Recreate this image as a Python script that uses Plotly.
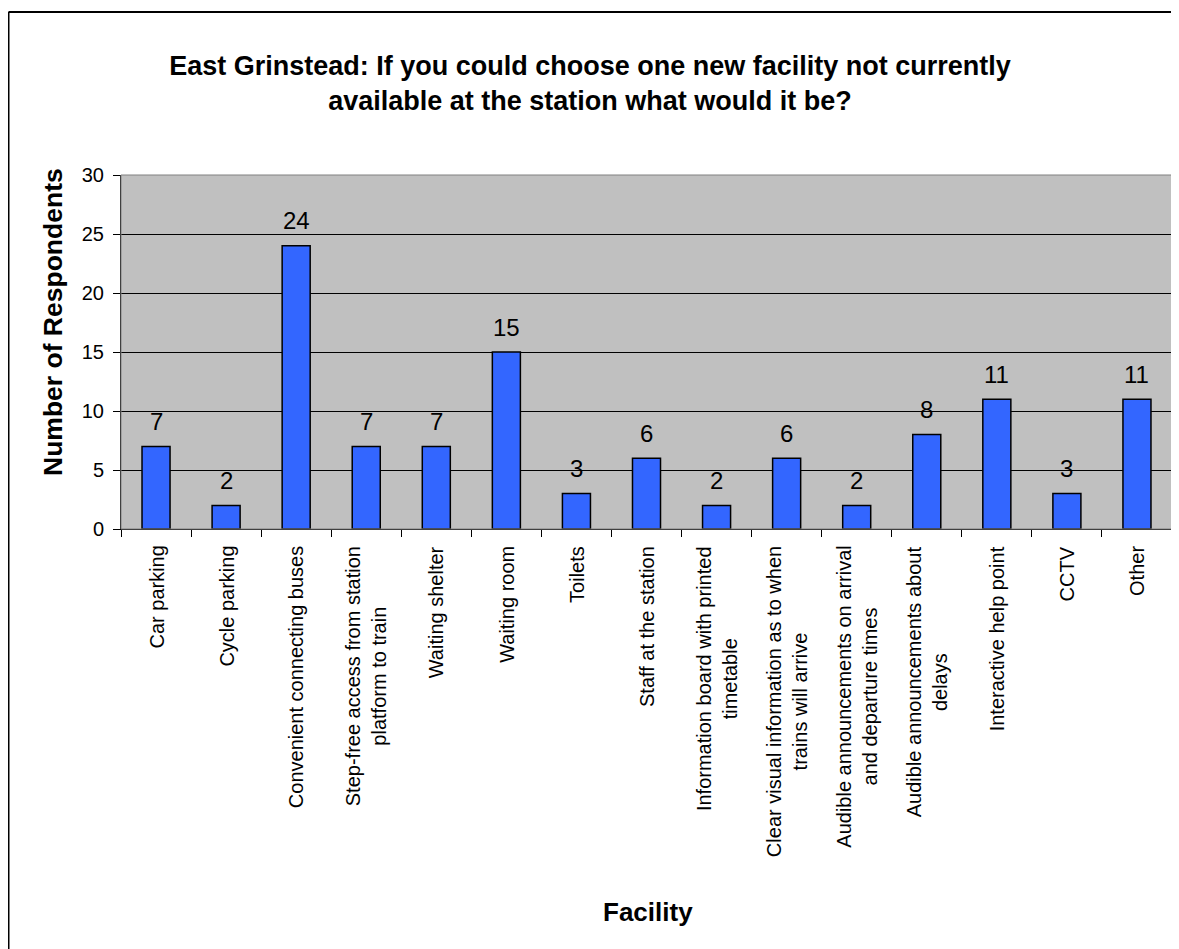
import plotly.graph_objects as go

categories = [
    "Car parking",
    "Cycle parking",
    "Convenient connecting buses",
    "Step-free access from station<br>platform to train",
    "Waiting shelter",
    "Waiting room",
    "Toilets",
    "Staff at the station",
    "Information board with printed<br>timetable",
    "Clear visual information as to when<br>trains will arrive",
    "Audible announcements on arrival<br>and departure times",
    "Audible announcements about<br>delays",
    "Interactive help point",
    "CCTV",
    "Other",
]
values = [7, 2, 24, 7, 7, 15, 3, 6, 2, 6, 2, 8, 11, 3, 11]
y_ticks = [0, 5, 10, 15, 20, 25, 30]

title_text = ("East Grinstead: If you could choose one new facility not currently<br>"
              "available at the station what would it be?")

# page has an 8px body margin; figure sized to fit the window
W, H = 1171, 941
ML, MR, MT, MB = 113, 7, 167, 420
PW = W - ML - MR
PH = H - MT - MB
BOTTOM = MT + PH  # figure px of plot bottom

FONT = "Liberation Sans, Arial, sans-serif"

fig = go.Figure()
fig.add_trace(go.Bar(
    x=categories, y=values,
    marker=dict(color="#3366FF", line=dict(color="black", width=1.5)),
    hoverinfo="x+y",
))

annotations = []
# data labels
for c, v in zip(categories, values):
    annotations.append(dict(
        x=c, y=v, xref="x", yref="y", text=str(v), showarrow=False,
        yanchor="middle", yshift=25,
        font=dict(family=FONT, size=24, color="black"),
    ))
# category labels
for c in categories:
    annotations.append(dict(
        x=c, y=0, xref="x", yref="paper", text=c, showarrow=False,
        textangle=-90, yanchor="top", xanchor="center", align="center", yshift=-15,
        font=dict(family=FONT, size=20, color="black"),
    ))
# y axis title
annotations.append(dict(
    x=(45 - ML) / PW, y=(BOTTOM - 314) / PH, xref="paper", yref="paper",
    text="<b>Number of Respondents</b>", showarrow=False, textangle=-90,
    xanchor="center", yanchor="middle",
    font=dict(family=FONT, size=26.5, color="black"),
))
# x axis title
annotations.append(dict(
    x=(640 - ML) / PW, y=-(904 - BOTTOM) / PH, xref="paper", yref="paper",
    text="<b>Facility</b>", showarrow=False,
    xanchor="center", yanchor="middle",
    font=dict(family=FONT, size=26, color="black"),
))

bx = (0.5 - ML) / PW
by = (BOTTOM - 4) / PH
shapes = [
    dict(type="rect", xref="paper", yref="paper", x0=0, y0=0, x1=1, y1=1,
         line=dict(color="#808080", width=1), layer="above"),
    dict(type="line", xref="paper", yref="paper", x0=bx, y0=by, x1=1.2, y1=by,
         line=dict(color="black", width=2)),
    dict(type="line", xref="paper", yref="paper", x0=bx, y0=-1.5, x1=bx, y1=by,
         line=dict(color="black", width=2)),
]

fig.update_layout(
    width=W, height=H,
    margin=dict(l=ML, r=MR, t=MT, b=MB, pad=0),
    paper_bgcolor="white",
    plot_bgcolor="#C0C0C0",
    bargap=0.6,
    showlegend=False,
    font=dict(family=FONT, color="black"),
    title=dict(
        text="<b>" + title_text + "</b>",
        x=582 / W, xref="container", xanchor="center",
        y=1 - 66.5 / H, yref="container", yanchor="middle",
        font=dict(family=FONT, size=27, color="black"),
    ),
    annotations=annotations,
    shapes=shapes,
    xaxis=dict(
        type="category", showticklabels=False, ticks="outside", ticklen=7,
        tickson="boundaries", tickcolor="black", tickwidth=1,
        showline=True, linecolor="black", linewidth=1,
        showgrid=False, zeroline=False,
    ),
    yaxis=dict(
        range=[0, 30], tickvals=y_ticks, ticks="outside", ticklen=7,
        tickcolor="black", tickwidth=1, ticklabelstandoff=5,
        showline=True, linecolor="black", linewidth=1,
        showgrid=True, gridcolor="black", gridwidth=1,
        zeroline=False,
        tickfont=dict(family=FONT, size=20, color="black"),
    ),
)

fig.write_html("out.html")
